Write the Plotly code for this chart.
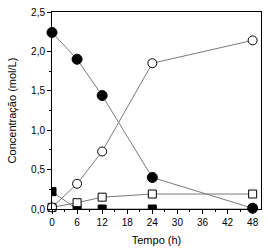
import plotly.graph_objects as go

tempo = [0, 6, 12, 24, 48]
circ_cheio = [2.24, 1.90, 1.44, 0.40, 0.01]
circ_aberto = [0.02, 0.32, 0.73, 1.85, 2.14]
quad_aberto = [0.02, 0.08, 0.15, 0.19, 0.19]
quad_cheio = [0.22, 0.0, 0.0, 0.0, 0.0]

x_ticks = [0, 6, 12, 18, 24, 30, 36, 42, 48]
y_ticks = [0.0, 0.5, 1.0, 1.5, 2.0, 2.5]

fig = go.Figure()
line = dict(color="#7a7a7a", width=1)
fig.add_trace(go.Scatter(x=tempo, y=quad_cheio, mode="lines+markers", line=line,
                         marker=dict(symbol="square", size=8, color="black", line=dict(color="black", width=1)),
                         cliponaxis=True))
fig.add_trace(go.Scatter(x=tempo, y=quad_aberto, mode="lines+markers", line=line,
                         marker=dict(symbol="square", size=8, color="white", line=dict(color="black", width=1)),
                         cliponaxis=False))
fig.add_trace(go.Scatter(x=tempo, y=circ_aberto, mode="lines+markers", line=line,
                         marker=dict(symbol="circle", size=9, color="white", line=dict(color="black", width=1)),
                         cliponaxis=False))
fig.add_trace(go.Scatter(x=tempo, y=circ_cheio, mode="lines+markers", line=line,
                         marker=dict(symbol="circle", size=10, color="black", line=dict(color="black", width=1)),
                         cliponaxis=False))

axis_font = dict(family="Liberation Sans, Arial, sans-serif", size=10, color="black")
title_font = dict(size=11, family="Liberation Sans, Arial, sans-serif", color="black")
fig.update_layout(
    width=268, height=251,
    margin=dict(l=52, r=6, t=11, b=41),
    paper_bgcolor="white", plot_bgcolor="white",
    showlegend=False,
    separators=",.",
    font=axis_font,
    xaxis=dict(range=[0, 50], tickvals=x_ticks, ticks="outside", ticklen=4, tickwidth=1,
               tickcolor="black", showline=True, linecolor="black", linewidth=1, mirror=True,
               showgrid=False, zeroline=False, tickfont=axis_font,
               minor=dict(dtick=3, tick0=0, ticks="outside", ticklen=2, tickcolor="black"),
               title=dict(text="Tempo (h)", font=title_font, standoff=9)),
    yaxis=dict(range=[0, 2.5], tickvals=y_ticks, tickformat=".1f", ticks="outside", ticklen=4, tickwidth=1,
               tickcolor="black", showline=True, linecolor="black", linewidth=1, mirror=True,
               showgrid=False, zeroline=False, tickfont=axis_font,
               minor=dict(dtick=0.25, tick0=0, ticks="outside", ticklen=2, tickcolor="black"),
               title=dict(text="Concentração (mol/L)", font=title_font, standoff=12)),
)
fig.write_html("out.html", config={"displayModeBar": False},
               post_script="document.body.style.margin='0';document.body.style.overflow='hidden';")
